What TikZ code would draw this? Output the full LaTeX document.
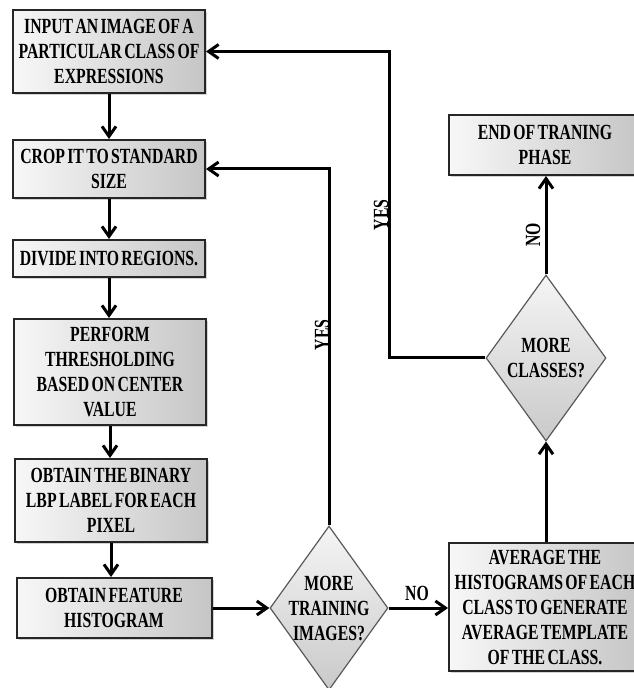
\documentclass[tikz,border=0pt]{standalone}
\usepackage{fontspec}
\newfontfamily\flowfont[FakeStretch=0.73,WordSpace=0.6]{Liberation Serif}
\usetikzlibrary{shapes.geometric}
\usetikzlibrary{shadows}
\usetikzlibrary{arrows.meta}
\tikzset{
  txt/.style={font=\flowfont\bfseries\fontsize{10.8}{12.5}\selectfont},
  stepbox/.style={txt, draw=black!85, line width=1pt, left color=gray!6, right color=gray!45,
    drop shadow={opacity=.35, shadow xshift=1.2pt, shadow yshift=-1.2pt},
    minimum width=96pt, align=center, inner sep=0pt},
  decision/.style={txt, diamond, draw=black!65, line width=.6pt, top color=gray!8, bottom color=gray!42,
    align=center, inner sep=-6pt, aspect=.72, minimum width=59pt, minimum height=82pt},
  flow/.style={line width=1.5pt, -{Straight Barb[length=5pt,width=7pt]}},
  lbl/.style={txt}
}

\begin{document}
\begin{tikzpicture}[x=.5pt,y=-.5pt]
\useasboundingbox (0,0) rectangle (633,688);

\node[stepbox, minimum height=41.5pt] (input) at (109,51.5) {INPUT AN IMAGE OF A\\PARTICULAR CLASS OF\\EXPRESSIONS};
\node[stepbox, minimum height=29pt] (crop) at (109,169) {CROP IT TO STANDARD\\SIZE};
\node[stepbox, minimum height=18.5pt] (divide) at (109,258.5) {DIVIDE INTO REGIONS.};
\node[stepbox, minimum height=53pt] (thresh) at (110,372) {PERFORM\\THRESHOLDING\\BASED ON CENTER\\VALUE};
\node[stepbox, minimum height=41.5pt] (binary) at (111,500.5) {OBTAIN THE BINARY\\LBP LABEL FOR EACH\\PIXEL};
\node[stepbox, minimum width=97.5pt, minimum height=30pt] (feature) at (114,608) {OBTAIN FEATURE\\HISTOGRAM};

\node[decision] (moretrain) at (329,608) {MORE\\TRAINING\\IMAGES?};
\node[stepbox, minimum height=64pt] (average) at (545,607) {AVERAGE THE\\HISTOGRAMS OF EACH\\CLASS TO GENERATE\\AVERAGE TEMPLATE\\OF THE CLASS.};
\node[decision, minimum width=60pt, minimum height=83pt] (moreclass) at (546,358) {MORE\\CLASSES?};
\node[stepbox, minimum height=30pt] (endphase) at (545,145) {END OF TRANING\\PHASE};

\coordinate (loopx) at (389,0);

\draw[flow] (input) -- (input |- crop.north);
\draw[flow] (crop) -- (crop |- divide.north);
\draw[flow] (divide) -- (divide |- thresh.north);
\draw[flow] (thresh) -- (thresh |- binary.north);
\draw[flow] (binary) -- (binary |- feature.north);
\draw[flow] (feature) -- (moretrain);
\draw[flow] (moretrain) -- (moretrain -| average.west);
\draw[flow] (moretrain.north) |- (crop.east);
\draw[flow] (average.north -| moreclass) -- (moreclass.south);
\draw[flow] (moreclass) -- (moreclass |- endphase.south);
\draw[flow] (moreclass.west) -- (loopx |- moreclass.west) |- (input.east);

\node[lbl] (notrain) at (417,593) {NO};
\node[lbl, rotate=90] (yestrain) at (322,335) {YES};
\node[lbl, rotate=90] (yesclass) at (381,215) {YES};
\node[lbl, rotate=90] (noclass) at (533,235) {NO};

\end{tikzpicture}
\end{document}
